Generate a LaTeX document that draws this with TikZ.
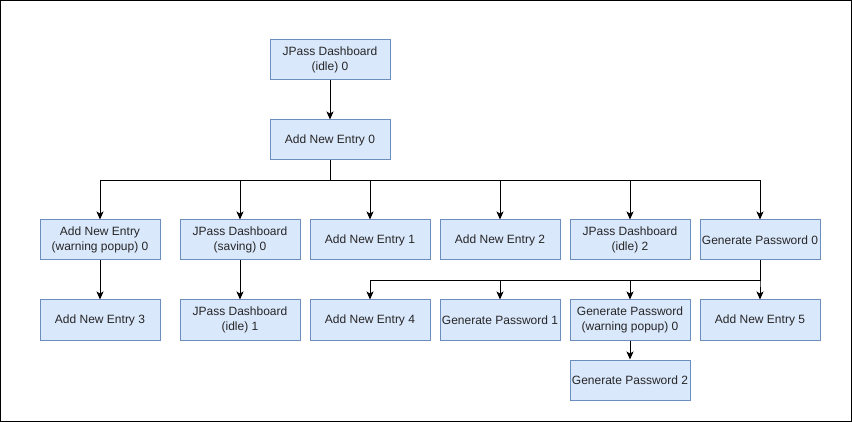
\documentclass[tikz,border=0pt]{standalone}
\usepackage{fontspec}
\setmainfont{Liberation Sans}
\usetikzlibrary{arrows.meta}
\definecolor{boxfill}{HTML}{DAE8FC}
\definecolor{boxdraw}{HTML}{6C8EBF}
\tikzset{
  statebox/.style={draw=boxdraw, fill=boxfill, line width=1pt, minimum width=120pt, minimum height=40pt, inner sep=0pt, align=center, font=\fontsize{12}{14.5}\selectfont, text=black!85},
  conn/.style={line width=1pt, -{Stealth[length=8pt,width=7pt,inset=2pt]}}
}
\begin{document}
\begin{tikzpicture}[x=1pt,y=-1pt]
\useasboundingbox (0,0) rectangle (852,422);
\draw[line width=1pt] (0.5,0.5) rectangle (851,421);
\node[statebox] (d0) at (330,60) {JPass Dashboard\\(idle) 0};
\node[statebox] (a0) at (330,140) {Add New Entry 0};
\node[statebox] (aw) at (100,240) {Add New Entry\\(warning popup) 0};
\node[statebox] (ds) at (240,240) {JPass Dashboard\\(saving) 0};
\node[statebox] (a1) at (370,240) {Add New Entry 1};
\node[statebox] (a2) at (500,240) {Add New Entry 2};
\node[statebox] (d2) at (630,240) {JPass Dashboard\\(idle) 2};
\node[statebox] (g0) at (760,240) {Generate Password 0};
\node[statebox] (a3) at (100,320) {Add New Entry 3};
\node[statebox] (d1) at (240,320) {JPass Dashboard\\(idle) 1};
\node[statebox] (a4) at (370,320) {Add New Entry 4};
\node[statebox] (g1) at (500,320) {Generate Password 1};
\node[statebox] (gw) at (630,320) {Generate Password\\(warning popup) 0};
\node[statebox] (a5) at (760,320) {Add New Entry 5};
\node[statebox] (g2) at (630,380) {Generate Password 2};
\draw[conn] (d0) -- (a0);
\foreach \t in {aw,ds,a1,a2,d2,g0}
  \draw[conn] (a0.south) |- ++(0,20) -| (\t.north);
\draw[conn] (aw) -- (a3);
\draw[conn] (ds) -- (d1);
\foreach \t in {a4,g1,gw,a5}
  \draw[conn] (g0.south) |- ++(0,20) -| (\t.north);
\draw[conn] (gw) -- (g2);
\end{tikzpicture}
\end{document}
